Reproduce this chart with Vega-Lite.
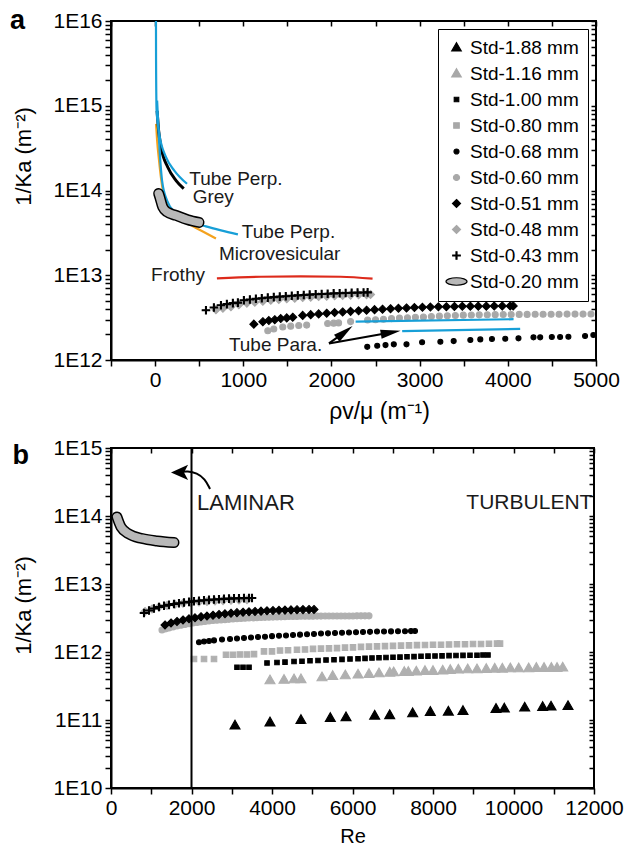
{
"$schema": "https://vega.github.io/schema/vega-lite/v6.json",
"padding": {"left": 9, "top": 6, "right": 5, "bottom": 2},
"spacing": 12,
"datasets": {
"a_pts": [
{"s":"Std-0.48 mm","x":690,"y":3.93e12},{"s":"Std-0.48 mm","x":769,"y":4.09e12},{"s":"Std-0.48 mm","x":860,"y":4.26e12},{"s":"Std-0.48 mm","x":950,"y":4.5e12},{"s":"Std-0.48 mm","x":1041,"y":4.69e12},{"s":"Std-0.48 mm","x":1131,"y":4.81e12},{"s":"Std-0.48 mm","x":1222,"y":4.94e12},{"s":"Std-0.48 mm","x":1312,"y":5.08e12},{"s":"Std-0.48 mm","x":1403,"y":5.18e12},{"s":"Std-0.48 mm","x":1493,"y":5.28e12},{"s":"Std-0.48 mm","x":1584,"y":5.36e12},{"s":"Std-0.48 mm","x":1674,"y":5.45e12},{"s":"Std-0.48 mm","x":1765,"y":5.52e12},{"s":"Std-0.48 mm","x":1855,"y":5.6e12},{"s":"Std-0.48 mm","x":1946,"y":5.66e12},{"s":"Std-0.48 mm","x":2036,"y":5.72e12},{"s":"Std-0.48 mm","x":2127,"y":5.79e12},{"s":"Std-0.48 mm","x":2217,"y":5.83e12},{"s":"Std-0.48 mm","x":2308,"y":5.88e12},{"s":"Std-0.48 mm","x":2398,"y":5.91e12},{"s":"Std-0.48 mm","x":2443,"y":5.93e12},
{"s":"Std-0.60 mm","x":1278,"y":2.21e12},{"s":"Std-0.60 mm","x":1346,"y":2.32e12},{"s":"Std-0.60 mm","x":1448,"y":2.45e12},{"s":"Std-0.60 mm","x":1538,"y":2.51e12},{"s":"Std-0.60 mm","x":1629,"y":2.55e12},{"s":"Std-0.60 mm","x":1719,"y":2.58e12},{"s":"Std-0.60 mm","x":1957,"y":2.7e12},{"s":"Std-0.60 mm","x":2025,"y":2.72e12},{"s":"Std-0.60 mm","x":2081,"y":2.74e12},{"s":"Std-0.60 mm","x":2217,"y":2.84e12},{"s":"Std-0.60 mm","x":2410,"y":2.96e12},{"s":"Std-0.60 mm","x":2500,"y":2.99e12},{"s":"Std-0.60 mm","x":2590,"y":3.03e12},{"s":"Std-0.60 mm","x":2681,"y":3.08e12},{"s":"Std-0.60 mm","x":2771,"y":3.12e12},{"s":"Std-0.60 mm","x":2862,"y":3.15e12},{"s":"Std-0.60 mm","x":2952,"y":3.19e12},{"s":"Std-0.60 mm","x":3043,"y":3.22e12},{"s":"Std-0.60 mm","x":3133,"y":3.26e12},{"s":"Std-0.60 mm","x":3224,"y":3.29e12},{"s":"Std-0.60 mm","x":3314,"y":3.32e12},{"s":"Std-0.60 mm","x":3405,"y":3.35e12},{"s":"Std-0.60 mm","x":3495,"y":3.38e12},{"s":"Std-0.60 mm","x":3586,"y":3.39e12},{"s":"Std-0.60 mm","x":3676,"y":3.41e12},{"s":"Std-0.60 mm","x":3767,"y":3.42e12},{"s":"Std-0.60 mm","x":3857,"y":3.43e12},{"s":"Std-0.60 mm","x":3948,"y":3.44e12},{"s":"Std-0.60 mm","x":4038,"y":3.44e12},{"s":"Std-0.60 mm","x":4129,"y":3.45e12},{"s":"Std-0.60 mm","x":4219,"y":3.45e12},{"s":"Std-0.60 mm","x":4310,"y":3.46e12},{"s":"Std-0.60 mm","x":4400,"y":3.46e12},{"s":"Std-0.60 mm","x":4491,"y":3.47e12},{"s":"Std-0.60 mm","x":4581,"y":3.47e12},{"s":"Std-0.60 mm","x":4672,"y":3.48e12},{"s":"Std-0.60 mm","x":4762,"y":3.48e12},{"s":"Std-0.60 mm","x":4853,"y":3.48e12},{"s":"Std-0.60 mm","x":4943,"y":3.49e12},
{"s":"Std-0.43 mm","x":577,"y":3.87e12},{"s":"Std-0.43 mm","x":667,"y":4.17e12},{"s":"Std-0.43 mm","x":747,"y":4.43e12},{"s":"Std-0.43 mm","x":814,"y":4.56e12},{"s":"Std-0.43 mm","x":882,"y":4.69e12},{"s":"Std-0.43 mm","x":939,"y":4.75e12},{"s":"Std-0.43 mm","x":1007,"y":5.08e12},{"s":"Std-0.43 mm","x":1075,"y":5.18e12},{"s":"Std-0.43 mm","x":1143,"y":5.28e12},{"s":"Std-0.43 mm","x":1210,"y":5.36e12},{"s":"Std-0.43 mm","x":1278,"y":5.45e12},{"s":"Std-0.43 mm","x":1346,"y":5.52e12},{"s":"Std-0.43 mm","x":1414,"y":5.6e12},{"s":"Std-0.43 mm","x":1482,"y":5.66e12},{"s":"Std-0.43 mm","x":1550,"y":5.72e12},{"s":"Std-0.43 mm","x":1618,"y":5.79e12},{"s":"Std-0.43 mm","x":1686,"y":5.85e12},{"s":"Std-0.43 mm","x":1753,"y":5.91e12},{"s":"Std-0.43 mm","x":1821,"y":5.96e12},{"s":"Std-0.43 mm","x":1889,"y":6.01e12},{"s":"Std-0.43 mm","x":1957,"y":6.06e12},{"s":"Std-0.43 mm","x":2025,"y":6.11e12},{"s":"Std-0.43 mm","x":2093,"y":6.14e12},{"s":"Std-0.43 mm","x":2161,"y":6.18e12},{"s":"Std-0.43 mm","x":2229,"y":6.21e12},{"s":"Std-0.43 mm","x":2296,"y":6.24e12},{"s":"Std-0.43 mm","x":2364,"y":6.26e12},{"s":"Std-0.43 mm","x":2410,"y":6.28e12},
{"s":"Std-0.51 mm","x":1120,"y":2.65e12},{"s":"Std-0.51 mm","x":1222,"y":2.83e12},{"s":"Std-0.51 mm","x":1290,"y":2.92e12},{"s":"Std-0.51 mm","x":1357,"y":2.99e12},{"s":"Std-0.51 mm","x":1425,"y":3.08e12},{"s":"Std-0.51 mm","x":1493,"y":3.14e12},{"s":"Std-0.51 mm","x":1561,"y":3.2e12},{"s":"Std-0.51 mm","x":1674,"y":3.36e12},{"s":"Std-0.51 mm","x":1765,"y":3.43e12},{"s":"Std-0.51 mm","x":1855,"y":3.5e12},{"s":"Std-0.51 mm","x":1946,"y":3.57e12},{"s":"Std-0.51 mm","x":2036,"y":3.63e12},{"s":"Std-0.51 mm","x":2127,"y":3.69e12},{"s":"Std-0.51 mm","x":2217,"y":3.75e12},{"s":"Std-0.51 mm","x":2308,"y":3.81e12},{"s":"Std-0.51 mm","x":2398,"y":3.87e12},{"s":"Std-0.51 mm","x":2489,"y":3.93e12},{"s":"Std-0.51 mm","x":2579,"y":3.98e12},{"s":"Std-0.51 mm","x":2670,"y":4.03e12},{"s":"Std-0.51 mm","x":2760,"y":4.07e12},{"s":"Std-0.51 mm","x":2851,"y":4.11e12},{"s":"Std-0.51 mm","x":2941,"y":4.16e12},{"s":"Std-0.51 mm","x":3032,"y":4.19e12},{"s":"Std-0.51 mm","x":3122,"y":4.21e12},{"s":"Std-0.51 mm","x":3213,"y":4.24e12},{"s":"Std-0.51 mm","x":3303,"y":4.26e12},{"s":"Std-0.51 mm","x":3394,"y":4.28e12},{"s":"Std-0.51 mm","x":3484,"y":4.3e12},{"s":"Std-0.51 mm","x":3575,"y":4.31e12},{"s":"Std-0.51 mm","x":3665,"y":4.32e12},{"s":"Std-0.51 mm","x":3756,"y":4.32e12},{"s":"Std-0.51 mm","x":3846,"y":4.33e12},{"s":"Std-0.51 mm","x":3937,"y":4.34e12},{"s":"Std-0.51 mm","x":4027,"y":4.34e12},{"s":"Std-0.51 mm","x":4061,"y":4.34e12},
{"s":"Std-0.68 mm","x":2406,"y":1.43e12},{"s":"Std-0.68 mm","x":2519,"y":1.47e12},{"s":"Std-0.68 mm","x":2613,"y":1.5e12},{"s":"Std-0.68 mm","x":2707,"y":1.53e12},{"s":"Std-0.68 mm","x":2851,"y":1.53e12},{"s":"Std-0.68 mm","x":3028,"y":1.62e12},{"s":"Std-0.68 mm","x":3235,"y":1.64e12},{"s":"Std-0.68 mm","x":3386,"y":1.67e12},{"s":"Std-0.68 mm","x":3575,"y":1.72e12},{"s":"Std-0.68 mm","x":3688,"y":1.75e12},{"s":"Std-0.68 mm","x":3820,"y":1.77e12},{"s":"Std-0.68 mm","x":3971,"y":1.78e12},{"s":"Std-0.68 mm","x":4121,"y":1.8e12},{"s":"Std-0.68 mm","x":4291,"y":1.85e12},{"s":"Std-0.68 mm","x":4367,"y":1.85e12},{"s":"Std-0.68 mm","x":4499,"y":1.87e12},{"s":"Std-0.68 mm","x":4593,"y":1.87e12},{"s":"Std-0.68 mm","x":4687,"y":1.88e12},{"s":"Std-0.68 mm","x":4876,"y":1.92e12},{"s":"Std-0.68 mm","x":4970,"y":1.97e12}
],
"a_orange": [{"x":11,"y":6.1e14},{"x":23,"y":3.9e14},{"x":45,"y":2.25e14},{"x":68,"y":1.38e14},{"x":113,"y":7.6e13},{"x":204,"y":5.35e13},{"x":351,"y":4.2e13},{"x":520,"y":3.38e13},{"x":690,"y":2.72e13}],
"a_blue": [
{"c":"perp1","x":10,"y":1e16},{"c":"perp1","x":11,"y":3.4e15},{"c":"perp1","x":17,"y":8.7e14},{"c":"perp1","x":49,"y":4.6e14},{"c":"perp1","x":124,"y":2.47e14},{"c":"perp1","x":218,"y":1.72e14},{"c":"perp1","x":362,"y":1.2e14},
{"c":"perp2","x":23,"y":1.15e15},{"c":"perp2","x":45,"y":3.9e14},{"c":"perp2","x":79,"y":1.31e14},{"c":"perp2","x":136,"y":7.6e13},{"c":"perp2","x":238,"y":5.35e13},{"c":"perp2","x":407,"y":4.3e13},{"c":"perp2","x":577,"y":3.77e13},{"c":"perp2","x":747,"y":3.38e13},{"c":"perp2","x":939,"y":3.03e13},
{"c":"para1","x":2274,"y":2.83e12},{"c":"para1","x":4065,"y":3.03e12},
{"c":"para2","x":2802,"y":2.19e12},{"c":"para2","x":4140,"y":2.33e12}
],
"a_black": [{"x":23,"y":8.7e14},{"x":40,"y":5.1e14},{"x":68,"y":3.23e14},{"x":144,"y":1.88e14},{"x":238,"y":1.31e14},{"x":325,"y":1.05e14}],
"a_red": [{"x":701,"y":9.2e12},{"x":1199,"y":9.6e12},{"x":1652,"y":9.7e12},{"x":2104,"y":9.6e12},{"x":2466,"y":9.1e12}],
"a_std": [{"x":40,"y":9.2e13},{"x":51,"y":8.5e13},{"x":87,"y":6.37e13},{"x":136,"y":5.58e13},{"x":238,"y":5.08e13},{"x":370,"y":4.52e13},{"x":498,"y":4.2e13}],
"a_arrows": [{"x":1972,"y":1.57e12,"x2":2150,"y2":2.13e12},{"x":1972,"y":1.57e12,"x2":2672,"y2":2.11e12}],
"a_text": [{"t":"Tube Perp.","x":388,"y":1.38e14},{"t":"Grey","x":426,"y":8.3e13},{"t":"Tube Perp.","x":984,"y":3.2e13},{"t":"Microvesicular","x":724,"y":1.77e13},{"t":"Frothy","x":-45,"y":1.02e13},{"t":"Tube Para.","x":837,"y":1.51e12}],
"b_pts": [
{"s":"Std-1.16 mm","x":3950,"y":3.87e11},{"s":"Std-1.16 mm","x":4298,"y":3.94e11},{"s":"Std-1.16 mm","x":4547,"y":4.0e11},{"s":"Std-1.16 mm","x":4720,"y":4.02e11},{"s":"Std-1.16 mm","x":5242,"y":4.29e11},{"s":"Std-1.16 mm","x":5508,"y":4.48e11},{"s":"Std-1.16 mm","x":5821,"y":4.59e11},{"s":"Std-1.16 mm","x":6137,"y":4.7e11},{"s":"Std-1.16 mm","x":6410,"y":4.8e11},{"s":"Std-1.16 mm","x":6658,"y":4.91e11},{"s":"Std-1.16 mm","x":6924,"y":5.02e11},{"s":"Std-1.16 mm","x":7023,"y":5.08e11},{"s":"Std-1.16 mm","x":7287,"y":5.13e11},{"s":"Std-1.16 mm","x":7387,"y":5.13e11},{"s":"Std-1.16 mm","x":7585,"y":5.2e11},{"s":"Std-1.16 mm","x":7801,"y":5.31e11},{"s":"Std-1.16 mm","x":8000,"y":5.31e11},{"s":"Std-1.16 mm","x":8241,"y":5.38e11},{"s":"Std-1.16 mm","x":8430,"y":5.5e11},{"s":"Std-1.16 mm","x":8629,"y":5.57e11},{"s":"Std-1.16 mm","x":8862,"y":5.62e11},{"s":"Std-1.16 mm","x":9093,"y":5.62e11},{"s":"Std-1.16 mm","x":9324,"y":5.68e11},{"s":"Std-1.16 mm","x":9533,"y":5.75e11},{"s":"Std-1.16 mm","x":9722,"y":5.75e11},{"s":"Std-1.16 mm","x":9921,"y":5.82e11},{"s":"Std-1.16 mm","x":10129,"y":5.82e11},{"s":"Std-1.16 mm","x":10377,"y":5.82e11},{"s":"Std-1.16 mm","x":10567,"y":5.89e11},{"s":"Std-1.16 mm","x":10758,"y":5.89e11},{"s":"Std-1.16 mm","x":10940,"y":5.89e11},{"s":"Std-1.16 mm","x":11081,"y":5.89e11},{"s":"Std-1.16 mm","x":11222,"y":5.96e11},
{"s":"Std-0.80 mm","x":2062,"y":7.9e11},{"s":"Std-0.80 mm","x":2311,"y":7.9e11},{"s":"Std-0.80 mm","x":2559,"y":7.9e11},{"s":"Std-0.80 mm","x":2857,"y":9.1e11},{"s":"Std-0.80 mm","x":3031,"y":9.1e11},{"s":"Std-0.80 mm","x":3205,"y":9.2e11},{"s":"Std-0.80 mm","x":3379,"y":9.2e11},{"s":"Std-0.80 mm","x":3553,"y":9.3e11},{"s":"Std-0.80 mm","x":3801,"y":1.02e12},{"s":"Std-0.80 mm","x":4000,"y":1.02e12},{"s":"Std-0.80 mm","x":4199,"y":1.05e12},{"s":"Std-0.80 mm","x":4398,"y":1.06e12},{"s":"Std-0.80 mm","x":4621,"y":1.08e12},{"s":"Std-0.80 mm","x":4820,"y":1.09e12},{"s":"Std-0.80 mm","x":5019,"y":1.11e12},{"s":"Std-0.80 mm","x":5217,"y":1.12e12},{"s":"Std-0.80 mm","x":5416,"y":1.13e12},{"s":"Std-0.80 mm","x":5615,"y":1.14e12},{"s":"Std-0.80 mm","x":5814,"y":1.16e12},{"s":"Std-0.80 mm","x":6012,"y":1.17e12},{"s":"Std-0.80 mm","x":6211,"y":1.19e12},{"s":"Std-0.80 mm","x":6410,"y":1.2e12},{"s":"Std-0.80 mm","x":6609,"y":1.21e12},{"s":"Std-0.80 mm","x":6807,"y":1.22e12},{"s":"Std-0.80 mm","x":7006,"y":1.23e12},{"s":"Std-0.80 mm","x":7205,"y":1.24e12},{"s":"Std-0.80 mm","x":7404,"y":1.25e12},{"s":"Std-0.80 mm","x":7602,"y":1.26e12},{"s":"Std-0.80 mm","x":7801,"y":1.27e12},{"s":"Std-0.80 mm","x":8000,"y":1.28e12},{"s":"Std-0.80 mm","x":8199,"y":1.28e12},{"s":"Std-0.80 mm","x":8398,"y":1.29e12},{"s":"Std-0.80 mm","x":8596,"y":1.3e12},{"s":"Std-0.80 mm","x":8795,"y":1.3e12},{"s":"Std-0.80 mm","x":8994,"y":1.31e12},{"s":"Std-0.80 mm","x":9193,"y":1.31e12},{"s":"Std-0.80 mm","x":9391,"y":1.32e12},{"s":"Std-0.80 mm","x":9590,"y":1.33e12},{"s":"Std-0.80 mm","x":9665,"y":1.33e12},
{"s":"Std-0.60 mm","x":1267,"y":2.11e12},{"s":"Std-0.60 mm","x":1360,"y":2.19e12},{"s":"Std-0.60 mm","x":1441,"y":2.26e12},{"s":"Std-0.60 mm","x":1540,"y":2.34e12},{"s":"Std-0.60 mm","x":1640,"y":2.41e12},{"s":"Std-0.60 mm","x":1740,"y":2.48e12},{"s":"Std-0.60 mm","x":1839,"y":2.54e12},{"s":"Std-0.60 mm","x":1940,"y":2.61e12},{"s":"Std-0.60 mm","x":2037,"y":2.67e12},{"s":"Std-0.60 mm","x":2140,"y":2.72e12},{"s":"Std-0.60 mm","x":2236,"y":2.76e12},{"s":"Std-0.60 mm","x":2335,"y":2.81e12},{"s":"Std-0.60 mm","x":2435,"y":2.86e12},{"s":"Std-0.60 mm","x":2535,"y":2.9e12},{"s":"Std-0.60 mm","x":2634,"y":2.93e12},{"s":"Std-0.60 mm","x":2735,"y":2.96e12},{"s":"Std-0.60 mm","x":2832,"y":2.99e12},{"s":"Std-0.60 mm","x":2930,"y":3.02e12},{"s":"Std-0.60 mm","x":3031,"y":3.05e12},{"s":"Std-0.60 mm","x":3130,"y":3.08e12},{"s":"Std-0.60 mm","x":3230,"y":3.11e12},{"s":"Std-0.60 mm","x":3330,"y":3.14e12},{"s":"Std-0.60 mm","x":3429,"y":3.16e12},{"s":"Std-0.60 mm","x":3530,"y":3.18e12},{"s":"Std-0.60 mm","x":3627,"y":3.19e12},{"s":"Std-0.60 mm","x":3730,"y":3.21e12},{"s":"Std-0.60 mm","x":3826,"y":3.23e12},{"s":"Std-0.60 mm","x":3925,"y":3.25e12},{"s":"Std-0.60 mm","x":4025,"y":3.26e12},{"s":"Std-0.60 mm","x":4125,"y":3.28e12},{"s":"Std-0.60 mm","x":4224,"y":3.29e12},{"s":"Std-0.60 mm","x":4320,"y":3.31e12},{"s":"Std-0.60 mm","x":4422,"y":3.32e12},{"s":"Std-0.60 mm","x":4520,"y":3.33e12},{"s":"Std-0.60 mm","x":4621,"y":3.34e12},{"s":"Std-0.60 mm","x":4720,"y":3.35e12},{"s":"Std-0.60 mm","x":4820,"y":3.35e12},{"s":"Std-0.60 mm","x":4920,"y":3.36e12},{"s":"Std-0.60 mm","x":5019,"y":3.36e12},{"s":"Std-0.60 mm","x":5120,"y":3.37e12},{"s":"Std-0.60 mm","x":5217,"y":3.37e12},{"s":"Std-0.60 mm","x":5320,"y":3.38e12},{"s":"Std-0.60 mm","x":5416,"y":3.38e12},{"s":"Std-0.60 mm","x":5515,"y":3.38e12},{"s":"Std-0.60 mm","x":5615,"y":3.38e12},{"s":"Std-0.60 mm","x":5715,"y":3.39e12},{"s":"Std-0.60 mm","x":5814,"y":3.39e12},{"s":"Std-0.60 mm","x":5915,"y":3.39e12},{"s":"Std-0.60 mm","x":6012,"y":3.39e12},{"s":"Std-0.60 mm","x":6110,"y":3.4e12},{"s":"Std-0.60 mm","x":6211,"y":3.4e12},{"s":"Std-0.60 mm","x":6310,"y":3.4e12},{"s":"Std-0.60 mm","x":6410,"y":3.4e12},
{"s":"Std-0.48 mm","x":845,"y":3.95e12},{"s":"Std-0.48 mm","x":1019,"y":4.29e12},{"s":"Std-0.48 mm","x":1193,"y":4.59e12},{"s":"Std-0.48 mm","x":1391,"y":4.83e12},{"s":"Std-0.48 mm","x":1590,"y":5.03e12},{"s":"Std-0.48 mm","x":1789,"y":5.2e12},{"s":"Std-0.48 mm","x":1988,"y":5.33e12},{"s":"Std-0.48 mm","x":2186,"y":5.44e12},{"s":"Std-0.48 mm","x":2385,"y":5.53e12},{"s":"Std-0.48 mm","x":2584,"y":5.62e12},{"s":"Std-0.48 mm","x":2783,"y":5.7e12},{"s":"Std-0.48 mm","x":2981,"y":5.76e12},{"s":"Std-0.48 mm","x":3180,"y":5.82e12},{"s":"Std-0.48 mm","x":3379,"y":5.85e12},
{"s":"Std-1.88 mm","x":3081,"y":8.4e10},{"s":"Std-1.88 mm","x":3950,"y":9.3e10},{"s":"Std-1.88 mm","x":4720,"y":1.01e11},{"s":"Std-1.88 mm","x":5449,"y":1.08e11},{"s":"Std-1.88 mm","x":5839,"y":1.11e11},{"s":"Std-1.88 mm","x":6551,"y":1.17e11},{"s":"Std-1.88 mm","x":6924,"y":1.19e11},{"s":"Std-1.88 mm","x":7495,"y":1.27e11},{"s":"Std-1.88 mm","x":7933,"y":1.33e11},{"s":"Std-1.88 mm","x":8381,"y":1.34e11},{"s":"Std-1.88 mm","x":8745,"y":1.37e11},{"s":"Std-1.88 mm","x":9565,"y":1.47e11},{"s":"Std-1.88 mm","x":9772,"y":1.49e11},{"s":"Std-1.88 mm","x":10278,"y":1.54e11},{"s":"Std-1.88 mm","x":10725,"y":1.57e11},{"s":"Std-1.88 mm","x":10932,"y":1.59e11},{"s":"Std-1.88 mm","x":11354,"y":1.62e11},
{"s":"Std-1.00 mm","x":3130,"y":5.96e11},{"s":"Std-1.00 mm","x":3280,"y":5.96e11},{"s":"Std-1.00 mm","x":3429,"y":5.96e11},{"s":"Std-1.00 mm","x":3876,"y":6.9e11},{"s":"Std-1.00 mm","x":4124,"y":7.0e11},{"s":"Std-1.00 mm","x":4323,"y":7.1e11},{"s":"Std-1.00 mm","x":4547,"y":7.25e11},{"s":"Std-1.00 mm","x":4745,"y":7.3e11},{"s":"Std-1.00 mm","x":4944,"y":7.43e11},{"s":"Std-1.00 mm","x":5143,"y":7.5e11},{"s":"Std-1.00 mm","x":5342,"y":7.62e11},{"s":"Std-1.00 mm","x":5540,"y":7.7e11},{"s":"Std-1.00 mm","x":5739,"y":7.8e11},{"s":"Std-1.00 mm","x":5938,"y":7.9e11},{"s":"Std-1.00 mm","x":6137,"y":7.97e11},{"s":"Std-1.00 mm","x":6311,"y":8.07e11},{"s":"Std-1.00 mm","x":6484,"y":8.16e11},{"s":"Std-1.00 mm","x":6658,"y":8.25e11},{"s":"Std-1.00 mm","x":6832,"y":8.3e11},{"s":"Std-1.00 mm","x":7006,"y":8.37e11},{"s":"Std-1.00 mm","x":7180,"y":8.4e11},{"s":"Std-1.00 mm","x":7354,"y":8.5e11},{"s":"Std-1.00 mm","x":7528,"y":8.55e11},{"s":"Std-1.00 mm","x":7702,"y":8.65e11},{"s":"Std-1.00 mm","x":7876,"y":8.7e11},{"s":"Std-1.00 mm","x":8050,"y":8.73e11},{"s":"Std-1.00 mm","x":8224,"y":8.78e11},{"s":"Std-1.00 mm","x":8398,"y":8.85e11},{"s":"Std-1.00 mm","x":8571,"y":8.88e11},{"s":"Std-1.00 mm","x":8745,"y":8.92e11},{"s":"Std-1.00 mm","x":8919,"y":8.95e11},{"s":"Std-1.00 mm","x":9093,"y":8.98e11},{"s":"Std-1.00 mm","x":9242,"y":9.03e11},{"s":"Std-1.00 mm","x":9366,"y":9.03e11},
{"s":"Std-0.68 mm","x":2186,"y":1.39e12},{"s":"Std-0.68 mm","x":2311,"y":1.43e12},{"s":"Std-0.68 mm","x":2435,"y":1.45e12},{"s":"Std-0.68 mm","x":2559,"y":1.48e12},{"s":"Std-0.68 mm","x":2758,"y":1.53e12},{"s":"Std-0.68 mm","x":2957,"y":1.55e12},{"s":"Std-0.68 mm","x":3130,"y":1.58e12},{"s":"Std-0.68 mm","x":3304,"y":1.61e12},{"s":"Std-0.68 mm","x":3478,"y":1.63e12},{"s":"Std-0.68 mm","x":3652,"y":1.66e12},{"s":"Std-0.68 mm","x":3826,"y":1.68e12},{"s":"Std-0.68 mm","x":4000,"y":1.71e12},{"s":"Std-0.68 mm","x":4174,"y":1.73e12},{"s":"Std-0.68 mm","x":4348,"y":1.75e12},{"s":"Std-0.68 mm","x":4522,"y":1.78e12},{"s":"Std-0.68 mm","x":4696,"y":1.8e12},{"s":"Std-0.68 mm","x":4870,"y":1.82e12},{"s":"Std-0.68 mm","x":5043,"y":1.84e12},{"s":"Std-0.68 mm","x":5217,"y":1.87e12},{"s":"Std-0.68 mm","x":5391,"y":1.88e12},{"s":"Std-0.68 mm","x":5565,"y":1.9e12},{"s":"Std-0.68 mm","x":5739,"y":1.92e12},{"s":"Std-0.68 mm","x":5913,"y":1.94e12},{"s":"Std-0.68 mm","x":6087,"y":1.95e12},{"s":"Std-0.68 mm","x":6261,"y":1.97e12},{"s":"Std-0.68 mm","x":6435,"y":1.98e12},{"s":"Std-0.68 mm","x":6609,"y":2.0e12},{"s":"Std-0.68 mm","x":6783,"y":2.0e12},{"s":"Std-0.68 mm","x":6957,"y":2.01e12},{"s":"Std-0.68 mm","x":7130,"y":2.02e12},{"s":"Std-0.68 mm","x":7304,"y":2.02e12},{"s":"Std-0.68 mm","x":7453,"y":2.03e12},{"s":"Std-0.68 mm","x":7553,"y":2.04e12},
{"s":"Std-0.51 mm","x":1342,"y":2.5e12},{"s":"Std-0.51 mm","x":1491,"y":2.67e12},{"s":"Std-0.51 mm","x":1640,"y":2.81e12},{"s":"Std-0.51 mm","x":1789,"y":2.96e12},{"s":"Std-0.51 mm","x":1938,"y":3.08e12},{"s":"Std-0.51 mm","x":2087,"y":3.18e12},{"s":"Std-0.51 mm","x":2236,"y":3.3e12},{"s":"Std-0.51 mm","x":2385,"y":3.38e12},{"s":"Std-0.51 mm","x":2534,"y":3.47e12},{"s":"Std-0.51 mm","x":2683,"y":3.56e12},{"s":"Std-0.51 mm","x":2832,"y":3.65e12},{"s":"Std-0.51 mm","x":2981,"y":3.72e12},{"s":"Std-0.51 mm","x":3130,"y":3.79e12},{"s":"Std-0.51 mm","x":3280,"y":3.85e12},{"s":"Std-0.51 mm","x":3429,"y":3.9e12},{"s":"Std-0.51 mm","x":3578,"y":3.95e12},{"s":"Std-0.51 mm","x":3727,"y":3.99e12},{"s":"Std-0.51 mm","x":3876,"y":4.03e12},{"s":"Std-0.51 mm","x":4025,"y":4.07e12},{"s":"Std-0.51 mm","x":4174,"y":4.1e12},{"s":"Std-0.51 mm","x":4323,"y":4.13e12},{"s":"Std-0.51 mm","x":4472,"y":4.16e12},{"s":"Std-0.51 mm","x":4621,"y":4.19e12},{"s":"Std-0.51 mm","x":4770,"y":4.2e12},{"s":"Std-0.51 mm","x":4919,"y":4.22e12},{"s":"Std-0.51 mm","x":5043,"y":4.23e12},
{"s":"Std-0.43 mm","x":820,"y":3.75e12},{"s":"Std-0.43 mm","x":944,"y":4.07e12},{"s":"Std-0.43 mm","x":1068,"y":4.36e12},{"s":"Std-0.43 mm","x":1193,"y":4.59e12},{"s":"Std-0.43 mm","x":1317,"y":4.78e12},{"s":"Std-0.43 mm","x":1441,"y":4.94e12},{"s":"Std-0.43 mm","x":1565,"y":5.08e12},{"s":"Std-0.43 mm","x":1689,"y":5.22e12},{"s":"Std-0.43 mm","x":1814,"y":5.35e12},{"s":"Std-0.43 mm","x":1938,"y":5.46e12},{"s":"Std-0.43 mm","x":2062,"y":5.57e12},{"s":"Std-0.43 mm","x":2186,"y":5.67e12},{"s":"Std-0.43 mm","x":2311,"y":5.76e12},{"s":"Std-0.43 mm","x":2435,"y":5.84e12},{"s":"Std-0.43 mm","x":2559,"y":5.92e12},{"s":"Std-0.43 mm","x":2683,"y":5.98e12},{"s":"Std-0.43 mm","x":2807,"y":6.04e12},{"s":"Std-0.43 mm","x":2932,"y":6.1e12},{"s":"Std-0.43 mm","x":3056,"y":6.14e12},{"s":"Std-0.43 mm","x":3180,"y":6.18e12},{"s":"Std-0.43 mm","x":3304,"y":6.2e12},{"s":"Std-0.43 mm","x":3429,"y":6.22e12},{"s":"Std-0.43 mm","x":3503,"y":6.22e12}
],
"b_std": [{"x":149,"y":9.66e13},{"x":248,"y":6.9e13},{"x":447,"y":5.43e13},{"x":770,"y":4.67e13},{"x":1143,"y":4.29e13},{"x":1565,"y":4.07e13}],
"b_curve": [{"x":1764,"y":4.45e14},{"x":1888,"y":4.6e14},{"x":2137,"y":4.29e14},{"x":2335,"y":3.5e14},{"x":2460,"y":2.5e14}]
},
"vconcat": [
{
 "width": 485, "height": 339,
 "layer": [
 {
 "encoding": {
  "x": {"field": "x", "type": "quantitative", "scale": {"domain": [-500, 5000], "nice": false, "zero": false},
    "axis": {"values": [-500,0,500,1000,1500,2000,2500,3000,3500,4000,4500,5000], "format": "d", "labelExpr": "datum.value % 1000 == 0 ? datum.label : ''", "title": "ρv/μ (m⁻¹)", "titleFontSize": 23, "titleX": 268, "titlePadding": 10}},
  "y": {"field": "y", "type": "quantitative", "scale": {"type": "log", "domain": [1e12, 1e16], "nice": false},
    "axis": {"values": [1e12,2e12,3e12,4e12,5e12,6e12,7e12,8e12,9e12,1e13,2e13,3e13,4e13,5e13,6e13,7e13,8e13,9e13,1e14,2e14,3e14,4e14,5e14,6e14,7e14,8e14,9e14,1e15,2e15,3e15,4e15,5e15,6e15,7e15,8e15,9e15,1e16],
      "labelExpr": "abs(log(datum.value)/LN10 - round(log(datum.value)/LN10)) < 0.001 ? '1E' + round(log(datum.value)/LN10) : ''", "title": "1/Ka (m⁻²)", "titleY": 135, "titlePadding": 17}}
 },
 "layer": [
  {"data": {"name": "a_pts"}, "mark": {"type": "point", "filled": true, "strokeWidth": 1.1, "opacity": 1, "size": 100},
   "encoding": {
    "fill": {"field": "s", "type": "nominal", "scale": {"domain": ["Std-1.88 mm","Std-1.16 mm","Std-1.00 mm","Std-0.80 mm","Std-0.68 mm","Std-0.60 mm","Std-0.51 mm","Std-0.48 mm","Std-0.43 mm","Std-0.20 mm"], "range": ["#000000","#a8a8a8","#000000","#a8a8a8","#000000","#a8a8a8","#000000","#a8a8a8","#000000","#b8b8b8"]},
      "legend": {"title": null, "orient": "top-right", "offset": 8, "strokeColor": "black", "fillColor": "white", "padding": 9, "labelFontSize": 19, "labelFont": "Liberation Sans", "labelColor": "black", "rowPadding": 6, "labelOffset": 4, "symbolStrokeWidth": 1.2, "symbolSize": 100}},
    "stroke": {"field": "s", "type": "nominal", "scale": {"domain": ["Std-1.88 mm","Std-1.16 mm","Std-1.00 mm","Std-0.80 mm","Std-0.68 mm","Std-0.60 mm","Std-0.51 mm","Std-0.48 mm","Std-0.43 mm","Std-0.20 mm"], "range": ["#000000","#a8a8a8","#000000","#a8a8a8","#000000","#a8a8a8","#000000","#a8a8a8","#000000","#000000"]},
      "legend": {"title": null, "orient": "top-right", "offset": 8, "strokeColor": "black", "fillColor": "white", "padding": 9, "labelFontSize": 19, "labelFont": "Liberation Sans", "labelColor": "black", "rowPadding": 6, "labelOffset": 4, "symbolStrokeWidth": 1.2, "symbolSize": 100}},
    "shape": {"field": "s", "type": "nominal", "scale": {"domain": ["Std-1.88 mm","Std-1.16 mm","Std-1.00 mm","Std-0.80 mm","Std-0.68 mm","Std-0.60 mm","Std-0.51 mm","Std-0.48 mm","Std-0.43 mm","Std-0.20 mm"], "range": ["M0,-0.95L0.95,0.7L-0.95,0.7Z","M0,-0.95L0.95,0.7L-0.95,0.7Z","M-0.45,-0.45H0.45V0.45H-0.45Z","M-0.55,-0.55H0.55V0.55H-0.55Z","M-0.5,0A0.5,0.5 0 1,1 0.5,0A0.5,0.5 0 1,1 -0.5,0Z","M-0.6,0A0.6,0.6 0 1,1 0.6,0A0.6,0.6 0 1,1 -0.6,0Z","M0,-0.8L0.8,0L0,0.8L-0.8,0Z","M0,-0.8L0.8,0L0,0.8L-0.8,0Z","M-0.75,-0.1H-0.1V-0.75H0.1V-0.1H0.75V0.1H0.1V0.75H-0.1V0.1H-0.75Z","M-2.1,0A2.1,0.75 0 1,1 2.1,0A2.1,0.75 0 1,1 -2.1,0Z"]},
      "legend": {"title": null, "orient": "top-right", "offset": 8, "strokeColor": "black", "fillColor": "white", "padding": 9, "labelFontSize": 19, "labelFont": "Liberation Sans", "labelColor": "black", "rowPadding": 6, "labelOffset": 4, "symbolStrokeWidth": 1.2, "symbolSize": 100}}
   }},
  {"data": {"name": "a_orange"}, "mark": {"type": "line", "stroke": "#f4a21e", "strokeWidth": 2.2, "interpolate": "monotone"}, "encoding": {}},
  {"data": {"name": "a_black"}, "mark": {"type": "line", "stroke": "#000000", "strokeWidth": 3, "interpolate": "monotone"}, "encoding": {}},
  {"data": {"name": "a_blue"}, "mark": {"type": "line", "stroke": "#179fd7", "strokeWidth": 2.2, "interpolate": "monotone"}, "encoding": {"detail": {"field": "c", "type": "nominal"}}},
  {"data": {"name": "a_red"}, "mark": {"type": "line", "stroke": "#dd2a1b", "strokeWidth": 2.2, "interpolate": "monotone"}, "encoding": {}},
  {"data": {"name": "a_std"}, "mark": {"type": "line", "stroke": "#000000", "strokeWidth": 11, "strokeCap": "round", "strokeJoin": "round", "interpolate": "monotone"}, "encoding": {}},
  {"data": {"name": "a_std"}, "mark": {"type": "line", "stroke": "#b8b8b8", "strokeWidth": 8, "strokeCap": "round", "strokeJoin": "round", "interpolate": "monotone"}, "encoding": {}},
  {"data": {"name": "a_arrows"}, "mark": {"type": "rule", "stroke": "#000000", "strokeWidth": 2}, "encoding": {"x2": {"field": "x2"}, "y2": {"field": "y2"}}},
  {"data": {"values": [{"x": 2150, "y": 2.13e12}]}, "mark": {"type": "point", "shape": "M0,-1L0.45,1L-0.45,1Z", "size": 400, "filled": true, "color": "#000000", "opacity": 1, "angle": 52}, "encoding": {}},
  {"data": {"values": [{"x": 2672, "y": 2.11e12}]}, "mark": {"type": "point", "shape": "M0,-1L0.45,1L-0.45,1Z", "size": 400, "filled": true, "color": "#000000", "opacity": 1, "angle": 80}, "encoding": {}},
  {"data": {"name": "a_text"}, "mark": {"type": "text", "align": "left", "baseline": "middle", "fontSize": 19, "font": "Liberation Sans", "color": "#1a1a1a"}, "encoding": {"text": {"field": "t"}}},
  {"data": {"values": [{"t": "a", "x": -1560, "y": 1e16}]}, "mark": {"type": "text", "align": "center", "baseline": "middle", "fontSize": 27, "fontWeight": "bold", "font": "Liberation Sans", "color": "#000000"}, "encoding": {"text": {"field": "t"}}}
 ]
 },
 {
  "data": {"values": [{"x": 0, "y": 1e13}]},
  "mark": {"type": "point", "opacity": 0},
  "encoding": {
   "x": {"field": "x", "type": "quantitative", "scale": {"domain": [-500, 5000], "nice": false, "zero": false},
     "axis": {"orient": "top", "values": [-500,0,500,1000,1500,2000,2500,3000,3500,4000,4500,5000], "labels": false, "title": null, "domain": false, "tickSize": 5, "offset": -5}},
   "y": {"field": "y", "type": "quantitative", "scale": {"type": "log", "domain": [1e12, 1e16], "nice": false},
     "axis": {"orient": "right", "values": [1e12,2e12,3e12,4e12,5e12,6e12,7e12,8e12,9e12,1e13,2e13,3e13,4e13,5e13,6e13,7e13,8e13,9e13,1e14,2e14,3e14,4e14,5e14,6e14,7e14,8e14,9e14,1e15,2e15,3e15,4e15,5e15,6e15,7e15,8e15,9e15,1e16], "labels": false, "title": null, "domain": false, "tickSize": 5, "offset": -5}}
  }
 }
 ],
 "resolve": {"scale": {"x": "independent", "y": "independent"}}
},
{
 "width": 483, "height": 340,
 "layer": [
 {
 "encoding": {
  "x": {"field": "x", "type": "quantitative", "scale": {"domain": [0, 12000], "nice": false},
    "axis": {"values": [0,1000,2000,3000,4000,5000,6000,7000,8000,9000,10000,11000,12000], "format": "d", "labelExpr": "datum.value % 2000 == 0 ? datum.label : ''", "title": "Re", "titleFontSize": 20, "titlePadding": 8}},
  "y": {"field": "y", "type": "quantitative", "scale": {"type": "log", "domain": [1e10, 1e15], "nice": false},
    "axis": {"values": [1e10,2e10,3e10,4e10,5e10,6e10,7e10,8e10,9e10,1e11,2e11,3e11,4e11,5e11,6e11,7e11,8e11,9e11,1e12,2e12,3e12,4e12,5e12,6e12,7e12,8e12,9e12,1e13,2e13,3e13,4e13,5e13,6e13,7e13,8e13,9e13,1e14,2e14,3e14,4e14,5e14,6e14,7e14,8e14,9e14,1e15],
      "labelExpr": "abs(log(datum.value)/LN10 - round(log(datum.value)/LN10)) < 0.001 ? '1E' + round(log(datum.value)/LN10) : ''", "title": "1/Ka (m⁻²)", "titleY": 157, "titlePadding": 17}}
 },
 "layer": [
  {"data": {"name": "b_pts"}, "mark": {"type": "point", "filled": true, "strokeWidth": 1.1, "opacity": 1, "size": 100},
   "encoding": {
    "fill": {"field": "s", "type": "nominal", "scale": {"domain": ["Std-1.88 mm","Std-1.16 mm","Std-1.00 mm","Std-0.80 mm","Std-0.68 mm","Std-0.60 mm","Std-0.51 mm","Std-0.48 mm","Std-0.43 mm","Std-0.20 mm"], "range": ["#000000","#b0b0b0","#000000","#b0b0b0","#000000","#b0b0b0","#000000","#b0b0b0","#000000","#b8b8b8"]}, "legend": null},
    "stroke": {"field": "s", "type": "nominal", "scale": {"domain": ["Std-1.88 mm","Std-1.16 mm","Std-1.00 mm","Std-0.80 mm","Std-0.68 mm","Std-0.60 mm","Std-0.51 mm","Std-0.48 mm","Std-0.43 mm","Std-0.20 mm"], "range": ["#000000","#b0b0b0","#000000","#b0b0b0","#000000","#b0b0b0","#000000","#b0b0b0","#000000","#000000"]}, "legend": null},
    "shape": {"field": "s", "type": "nominal", "scale": {"domain": ["Std-1.88 mm","Std-1.16 mm","Std-1.00 mm","Std-0.80 mm","Std-0.68 mm","Std-0.60 mm","Std-0.51 mm","Std-0.48 mm","Std-0.43 mm","Std-0.20 mm"], "range": ["M0,-1L1,0.75L-1,0.75Z","M0,-1L1,0.75L-1,0.75Z","M-0.45,-0.45H0.45V0.45H-0.45Z","M-0.55,-0.55H0.55V0.55H-0.55Z","M-0.5,0A0.5,0.5 0 1,1 0.5,0A0.5,0.5 0 1,1 -0.5,0Z","M-0.6,0A0.6,0.6 0 1,1 0.6,0A0.6,0.6 0 1,1 -0.6,0Z","M0,-0.8L0.8,0L0,0.8L-0.8,0Z","M0,-0.8L0.8,0L0,0.8L-0.8,0Z","M-0.75,-0.1H-0.1V-0.75H0.1V-0.1H0.75V0.1H0.1V0.75H-0.1V0.1H-0.75Z","circle"]}, "legend": null}
   }},
  {"data": {"name": "b_std"}, "mark": {"type": "line", "stroke": "#000000", "strokeWidth": 11, "strokeCap": "round", "strokeJoin": "round", "interpolate": "monotone"}, "encoding": {}},
  {"data": {"name": "b_std"}, "mark": {"type": "line", "stroke": "#b8b8b8", "strokeWidth": 8, "strokeCap": "round", "strokeJoin": "round", "interpolate": "monotone"}, "encoding": {}},
  {"data": {"values": [{"x": 2000, "y": 1e10, "y2": 1e15}]}, "mark": {"type": "rule", "stroke": "#000000", "strokeWidth": 2}, "encoding": {"y2": {"field": "y2"}}},
  {"data": {"name": "b_curve"}, "mark": {"type": "line", "stroke": "#000000", "strokeWidth": 2, "interpolate": "basis"}, "encoding": {}},
  {"data": {"values": [{"x": 1714, "y": 4.37e14}]}, "mark": {"type": "point", "shape": "M0,-1L0.85,0.9L0,0.45L-0.85,0.9Z", "size": 324, "filled": true, "color": "#000000", "opacity": 1, "angle": 270}, "encoding": {}},
  {"data": {"values": [{"t": "LAMINAR", "x": 2137, "y": 1.55e14}]}, "mark": {"type": "text", "align": "left", "baseline": "middle", "fontSize": 22, "font": "Liberation Sans", "color": "#1a1a1a"}, "encoding": {"text": {"field": "t"}}},
  {"data": {"values": [{"t": "TURBULENT", "x": 11960, "y": 1.55e14}]}, "mark": {"type": "text", "align": "right", "baseline": "middle", "fontSize": 21, "font": "Liberation Sans", "color": "#1a1a1a"}, "encoding": {"text": {"field": "t"}}},
  {"data": {"values": [{"t": "b", "x": -2240, "y": 7.5e14}]}, "mark": {"type": "text", "align": "center", "baseline": "middle", "fontSize": 27, "fontWeight": "bold", "font": "Liberation Sans", "color": "#000000"}, "encoding": {"text": {"field": "t"}}}
 ]
 },
 {
  "data": {"values": [{"x": 0, "y": 1e12}]},
  "mark": {"type": "point", "opacity": 0},
  "encoding": {
   "x": {"field": "x", "type": "quantitative", "scale": {"domain": [0, 12000], "nice": false},
     "axis": {"orient": "top", "values": [0,1000,2000,3000,4000,5000,6000,7000,8000,9000,10000,11000,12000], "labels": false, "title": null, "domain": false, "tickSize": 5, "offset": -5}},
   "y": {"field": "y", "type": "quantitative", "scale": {"type": "log", "domain": [1e10, 1e15], "nice": false},
     "axis": {"orient": "right", "values": [1e10,2e10,3e10,4e10,5e10,6e10,7e10,8e10,9e10,1e11,2e11,3e11,4e11,5e11,6e11,7e11,8e11,9e11,1e12,2e12,3e12,4e12,5e12,6e12,7e12,8e12,9e12,1e13,2e13,3e13,4e13,5e13,6e13,7e13,8e13,9e13,1e14,2e14,3e14,4e14,5e14,6e14,7e14,8e14,9e14,1e15], "labels": false, "title": null, "domain": false, "tickSize": 5, "offset": -5}}
  }
 }
 ],
 "resolve": {"scale": {"x": "independent", "y": "independent"}}
}
],
"resolve": {"scale": {"fill": "independent", "stroke": "independent", "shape": "independent"}},
"config": {
 "font": "Liberation Sans",
 "view": {"stroke": "#000000", "strokeWidth": 2},
 "axis": {"grid": false, "domainColor": "#000000", "domainWidth": 2, "tickColor": "#000000", "tickWidth": 1.5, "tickSize": 6, "labelPadding": 3, "labelFont": "Liberation Sans", "labelFontSize": 21, "labelColor": "#000000", "titleFont": "Liberation Sans", "titleFontWeight": "normal", "titleColor": "#000000", "titleFontSize": 22, "labelOverlap": false, "labelFlush": false, "labelBound": false},
 "legend": {"labelFont": "Liberation Sans"}
}
}
